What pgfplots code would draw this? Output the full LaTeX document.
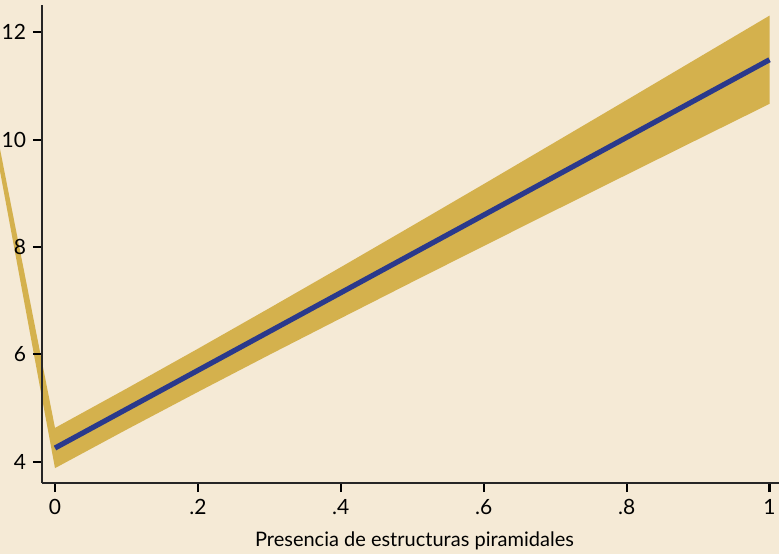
\documentclass[border=0pt]{standalone}
\usepackage{pgfplots}
\pgfplotsset{compat=1.18}
\usepackage{fontspec}
\setmainfont{Lato}
\definecolor{bg}{RGB}{245,234,214}
\definecolor{gold}{RGB}{212,177,77}
\definecolor{navyline}{RGB}{42,57,140}
\begin{document}
\begin{tikzpicture}
\path[use as bounding box, fill=bg] (-21pt,-35.5pt) rectangle (368.5pt,241.5pt);
\clip (-21pt,-35.5pt) rectangle (368.5pt,241.5pt);
\begin{axis}[
  at={(0pt,0pt)}, anchor=south west,
  width=368.5pt, height=239pt, scale only axis,
  xmin=-0.0182, xmax=1.0133, ymin=3.603, ymax=12.51,
  axis lines=left,
  axis line style={-, line width=0.6pt, black!85},
  xtick={0,0.2,0.4,0.6,0.8,1},
  xticklabels={0,.2,.4,.6,.8,1},
  ytick={4,6,8,10,12},
  tick align=outside,
  major tick length=4.5pt,
  tick style={line width=1.1pt, black},
  /pgf/number format/assume math mode=true,
  tick label style={font=\fontsize{10.5}{12}\selectfont},
  xlabel={Presencia de estructuras piramidales},
  xlabel style={font=\fontsize{10}{12}\selectfont, yshift=-2pt, xshift=2pt},
  clip=false,
  axis on top,
]
\addplot[fill=gold, draw=none] coordinates {
(-0.1,11.38) (0,4.630) (0.1,5.361) (0.2,6.105) (0.3,6.861) (0.4,7.625) (0.5,8.397)
(0.6,9.173) (0.7,9.955) (0.8,10.738) (0.9,11.525) (1,12.312)
(1,10.668) (0.9,10.009) (0.8,9.348) (0.7,8.685) (0.6,8.019) (0.5,7.349)
(0.4,6.673) (0.3,5.992) (0.2,5.300) (0.1,4.597) (0,3.880) (-0.1,11.07)
} -- cycle;
\addplot[navyline, line width=2.6pt] coordinates {(0,4.255) (1,11.49)};
\end{axis}
\end{tikzpicture}
\end{document}
